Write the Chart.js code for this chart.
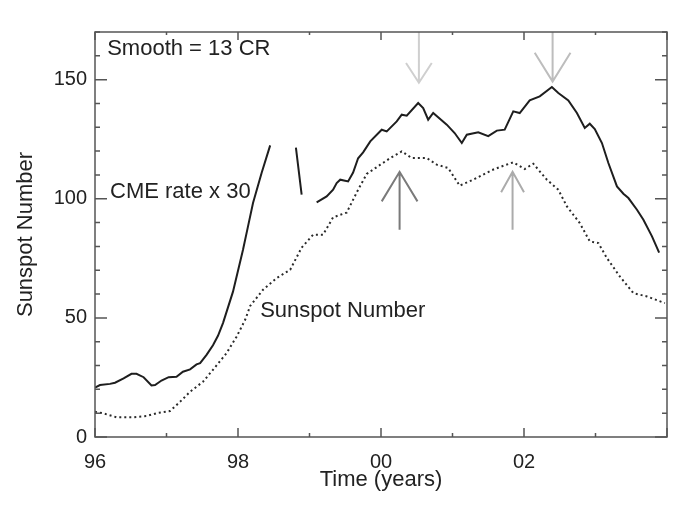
<!DOCTYPE html>
<html>
<head>
<meta charset="utf-8">
<script src="https://cdn.jsdelivr.net/npm/chart.js@4.4.1/dist/chart.umd.min.js"></script>
<style>
  html, body { margin: 0; padding: 0; background: #fff; }
  #wrap { width: 685px; height: 511px; }
</style>
</head>
<body>
<div id="wrap"><canvas id="cmeChart"></canvas></div>
<script>
// CME rate x 30 (null = gap in the record)
var cmeYears = [1996.00, 1996.07, 1996.21, 1996.28, 1996.40, 1996.51, 1996.58, 1996.68, 1996.79, 1996.84,
    1996.93, 1997.03, 1997.14, 1997.23, 1997.33, 1997.42, 1997.47, 1997.56, 1997.65, 1997.72,
    1997.79, 1997.93, 1998.07, 1998.14, 1998.21, 1998.33, 1998.45, 1998.63, 1998.81, 1998.89,
    1999.00, 1999.10, 1999.24, 1999.33, 1999.38, 1999.43, 1999.54, 1999.61, 1999.68, 1999.75,
    1999.85, 2000.01, 2000.08, 2000.22, 2000.29, 2000.36, 2000.52, 2000.59, 2000.66, 2000.73,
    2000.92, 2001.03, 2001.13, 2001.20, 2001.36, 2001.50, 2001.62, 2001.73, 2001.85, 2001.94,
    2002.08, 2002.22, 2002.39, 2002.48, 2002.62, 2002.74, 2002.85, 2002.92, 2002.99, 2003.09,
    2003.18, 2003.30, 2003.39, 2003.46, 2003.58, 2003.67, 2003.79, 2003.89];
var cmeValues = [20.7, 21.8, 22.3, 22.8, 24.6, 26.5, 26.5, 25.1, 21.6, 21.8,
    23.7, 25.1, 25.3, 27.4, 28.4, 30.5, 31.0, 34.5, 38.5, 42.5,
    47.8, 61.0, 78.6, 88.4, 98.2, 110.8, 122.4, null, 121.5, 101.7,
    null, 98.5, 101.0, 103.8, 106.6, 108.0, 107.3, 111.0, 117.0, 119.5,
    124.1, 129.0, 128.3, 132.5, 135.3, 134.9, 140.2, 138.1, 133.2, 136.0,
    131.1, 127.6, 123.4, 126.9, 127.9, 126.3, 128.6, 129.0, 136.7, 136.0,
    141.3, 143.0, 146.9, 144.4, 141.3, 136.0, 129.7, 131.5, 129.3, 123.4,
    115.0, 105.2, 102.1, 100.3, 95.4, 91.2, 84.2, 77.4];

// Sunspot number
var ssnYears = [1996.00, 1996.12, 1996.30, 1996.54, 1996.72, 1996.89, 1997.05, 1997.19, 1997.33, 1997.51,
    1997.65, 1997.84, 1997.98, 1998.10, 1998.17, 1998.35, 1998.54, 1998.73, 1998.89, 1999.05,
    1999.19, 1999.33, 1999.52, 1999.68, 1999.80, 1999.99, 2000.13, 2000.29, 2000.43, 2000.64,
    2000.78, 2000.94, 2001.10, 2001.29, 2001.55, 2001.66, 2001.85, 2002.01, 2002.13, 2002.32,
    2002.48, 2002.60, 2002.78, 2002.92, 2003.04, 2003.16, 2003.34, 2003.53, 2003.72, 2003.97];
var ssnValues = [10.6, 9.9, 8.3, 8.3, 8.8, 10.2, 10.9, 14.8, 19.0, 23.2,
    28.2, 35.2, 42.1, 49.2, 55.0, 61.8, 66.7, 70.2, 79.5, 84.9,
    84.9, 92.2, 94.2, 103.8, 110.4, 114.3, 117.1, 119.9, 117.1, 117.1,
    114.3, 112.9, 105.5, 108.0, 112.0, 113.3, 115.3, 112.5, 114.7, 108.0,
    103.8, 96.8, 89.8, 82.1, 81.4, 75.1, 67.4, 60.4, 59.0, 56.2];

// arrows: [year, tail value, tip value, head value, head half-width in years]
var arrowCmePeak1 = [2000.53, 170, 148.7, 157, 0.18];
var arrowCmePeak2 = [2002.40, 170, 149.2, 161.3, 0.25];
var arrowSsnPeak1 = [2000.26, 87, 111.3, 98.9, 0.25];
var arrowSsnPeak2 = [2001.84, 87, 111.3, 102.7, 0.16];

var xTickLabels = ["96", "98", "00", "02"];
var yTickValues = [0, 50, 100, 150];

function pairs(xs, ys) {
    return xs.map(function (x, i) { return {x: x, y: ys[i]}; });
}

function arrowData(a) {
    return [
        {x: a[0], y: a[1]}, {x: a[0], y: a[2]}, {x: a[0], y: null},
        {x: a[0] - a[4], y: a[3]}, {x: a[0], y: a[2]}, {x: a[0] + a[4], y: a[3]}
    ];
}

function arrowSet(a, color) {
    return {
        data: arrowData(a), borderColor: color, borderWidth: 2,
        pointRadius: 0, spanGaps: false, tension: 0
    };
}

var font = "'Liberation Sans', Arial, Helvetica, sans-serif";

var framePlugin = {
    id: 'frame',
    afterDatasetsDraw: function (chart) {
        var ctx = chart.ctx, a = chart.chartArea;
        var x = chart.scales.x, y = chart.scales.y;
        ctx.save();
        ctx.strokeStyle = '#555';
        ctx.lineWidth = 1.5;
        ctx.strokeRect(a.left, a.top, a.right - a.left, a.bottom - a.top);
        ctx.beginPath();
        for (var v = 1996; v <= 2004; v++) {
            var px = x.getPixelForValue(v);
            var len = v % 2 === 0 ? 9 : 4;
            ctx.moveTo(px, a.bottom); ctx.lineTo(px, a.bottom - len);
            ctx.moveTo(px, a.top); ctx.lineTo(px, a.top + len - 1);
        }
        for (var w = 0; w <= 170; w += 10) {
            var py = y.getPixelForValue(w);
            var l2 = w % 50 === 0 ? 12 : 5;
            ctx.moveTo(a.left, py); ctx.lineTo(a.left + l2, py);
            ctx.moveTo(a.right, py); ctx.lineTo(a.right - l2, py);
        }
        ctx.stroke();

        ctx.fillStyle = '#222';
        ctx.font = '22px ' + font;
        ctx.textBaseline = 'middle';
        ctx.textAlign = 'left';
        ctx.fillText('Smooth = 13 CR', x.getPixelForValue(1996.17), y.getPixelForValue(163));
        ctx.fillText('CME rate x 30', x.getPixelForValue(1996.21), y.getPixelForValue(103));
        ctx.fillText('Sunspot Number', x.getPixelForValue(1998.31), y.getPixelForValue(53));
        ctx.restore();
    }
};

var ctx = document.getElementById('cmeChart').getContext('2d');
new Chart(ctx, {
    type: 'line',
    data: {
        datasets: [
            {
                data: pairs(cmeYears, cmeValues), borderColor: '#1e1e1e', borderWidth: 2,
                pointRadius: 0, spanGaps: false, tension: 0
            },
            {
                data: pairs(ssnYears, ssnValues), borderColor: '#2a2a2a', borderWidth: 2,
                borderDash: [2, 3], pointRadius: 0, tension: 0
            },
            arrowSet(arrowCmePeak1, '#cfcfcf'),
            arrowSet(arrowCmePeak2, '#bdbdbd'),
            arrowSet(arrowSsnPeak1, '#7a7a7a'),
            arrowSet(arrowSsnPeak2, '#ababab')
        ]
    },
    options: {
        responsive: true,
        maintainAspectRatio: false,
        animation: false,
        layout: {padding: {top: 32, right: 18, left: 0, bottom: 0}},
        plugins: {legend: {display: false}, tooltip: {enabled: false}},
        scales: {
            x: {
                type: 'linear', min: 1996, max: 2004,
                grid: {display: false, drawTicks: false},
                border: {display: false},
                afterFit: function (s) { s.height = 74; },
                ticks: {
                    stepSize: 2, autoSkip: false, maxRotation: 0, padding: 13,
                    color: '#222', font: {family: font, size: 20},
                    callback: function (v) {
                        var i = (v - 1996) / 2;
                        return xTickLabels[i] !== undefined ? xTickLabels[i] : '';
                    }
                },
                title: {
                    display: true, text: 'Time (years)', color: '#222',
                    font: {family: font, size: 22}, padding: {top: 0, bottom: 18}
                }
            },
            y: {
                min: 0, max: 170,
                grid: {display: false, drawTicks: false},
                border: {display: false},
                afterFit: function (s) { s.width = 95; },
                ticks: {
                    stepSize: 50, includeBounds: false, padding: 8,
                    color: '#222', font: {family: font, size: 20},
                    callback: function (v) { return yTickValues.indexOf(v) >= 0 ? String(v) : ''; }
                },
                title: {
                    display: true, text: 'Sunspot Number', color: '#222',
                    font: {family: font, size: 22}, padding: {top: 13, bottom: 0}
                }
            }
        }
    },
    plugins: [framePlugin]
});
</script>
</body>
</html>
